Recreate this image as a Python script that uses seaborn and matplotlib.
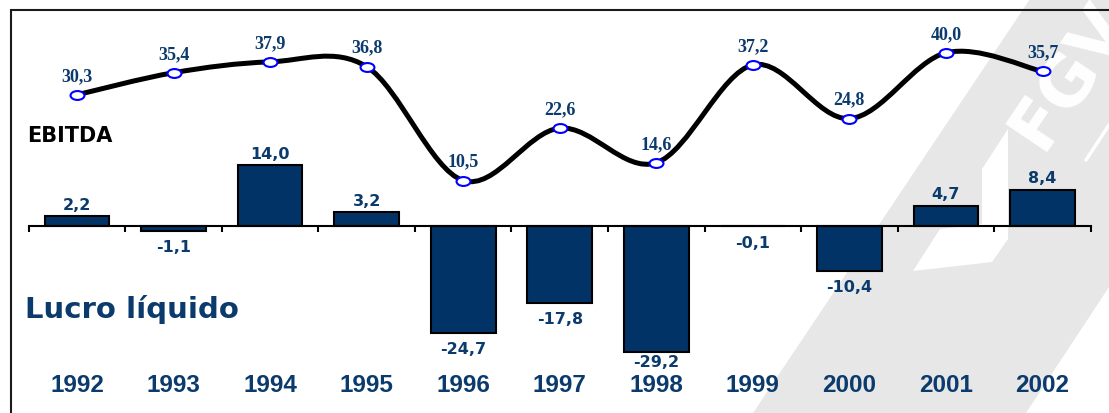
import numpy as np
import matplotlib
matplotlib.use("Agg")
import matplotlib.pyplot as plt
import seaborn as sns
from matplotlib.path import Path
from matplotlib.patches import PathPatch, Polygon
from matplotlib.transforms import Affine2D

# ---------------- data ----------------
years = ["1992", "1993", "1994", "1995", "1996", "1997", "1998", "1999", "2000", "2001", "2002"]
lucro_liquido = [2.2, -1.1, 14.0, 3.2, -24.7, -17.8, -29.2, -0.1, -10.4, 4.7, 8.4]
ebitda = [30.3, 35.4, 37.9, 36.8, 10.5, 22.6, 14.6, 37.2, 24.8, 40.0, 35.7]
series_labels = ["EBITDA", "Lucro líquido"]

# ---------------- style ----------------
W, H = 1109, 414
BAR_COLOR = "#023366"
TEXT_BLUE = "#0b3a6c"
MARKER_BLUE = "#0000ff"
PX_PER_CAT = 96.55
CAT0_PX = 77.0
ZERO_PX = 227.0
PX_PER_UNIT = 4.33

def fmt(v):
    return f"{v:.1f}".replace(".", ",")

sns.set_theme(style="white")
plt.rcParams["font.family"] = ["DejaVu Sans"]

fig = plt.figure(figsize=(W / 100, H / 100), dpi=100)

# background layer in pixel coordinates (watermark, frame, series titles)
bg = fig.add_axes([0, 0, 1, 1], zorder=0)
bg.set_xlim(0, W)
bg.set_ylim(H, 0)
bg.axis("off")

gray = "#e7e7e7"
bg.add_patch(Polygon([(753, 414), (1030, 0), (1109, 0), (1109, 288), (1026, 414)],
                     closed=True, facecolor=gray, edgecolor="none", zorder=0))
bg.add_patch(Polygon([(1008, 130), (982, 170), (982, 225), (940, 230), (913, 272),
                      (992, 263), (1008, 240)],
                     closed=True, facecolor="white", edgecolor="none", zorder=1))
bg.plot([1109, 1086], [126, 161], color="white", lw=2.5, zorder=1)
bg.text(1042, 152, "FGV", rotation=56, rotation_mode="anchor", ha="left", va="baseline",
        fontsize=50, fontweight="bold", color="white", zorder=2)

# frame
bg.plot([11, 11, W + 5], [H + 5, 11, 11], color="#1a1a1a", lw=1.5, zorder=3,
        solid_joinstyle="miter")

bg.text(27, 142, series_labels[0], ha="left", va="baseline", fontsize=15,
        fontweight="bold", color="black", zorder=3)
bg.text(25, 318, series_labels[1], ha="left", va="baseline", fontsize=21,
        fontweight="bold", color=TEXT_BLUE, zorder=3)

# main chart layer
ax = fig.add_axes([0, 0, 1, 1], zorder=1)
ax.patch.set_alpha(0)

sns.barplot(x=years, y=lucro_liquido, color=BAR_COLOR, saturation=1, width=0.67,
            edgecolor="black", linewidth=1.5, errorbar=None, ax=ax, zorder=2)

ax.set_xlim(-CAT0_PX / PX_PER_CAT, (W - CAT0_PX) / PX_PER_CAT)
ax.set_ylim(-(H - ZERO_PX) / PX_PER_UNIT, ZERO_PX / PX_PER_UNIT)

for s in ["top", "right", "left"]:
    ax.spines[s].set_visible(False)
ax.spines["bottom"].set_position(("data", 0))
ax.spines["bottom"].set_bounds(-0.5, len(years) - 0.5)
ax.spines["bottom"].set_linewidth(1.5)
ax.spines["bottom"].set_color("black")
ax.spines["bottom"].set_zorder(3)
ax.set_xticks(np.arange(-0.5, len(years), 1.0), labels=[""] * (len(years) + 1))
ax.tick_params(axis="x", direction="out", length=4.5, width=1.5, color="black", bottom=True)
ax.set_yticks([])
ax.set_xlabel("")
ax.set_ylabel("")

# smoothed EBITDA line (Catmull-Rom style Bezier through the data points)
xs = np.arange(len(ebitda), dtype=float)
P = np.column_stack([xs, ebitda])
verts = [P[0]]
codes = [Path.MOVETO]
n = len(P)
for i in range(n - 1):
    p_prev = P[max(i - 1, 0)]
    p_next2 = P[min(i + 2, n - 1)]
    c1 = P[i] + (P[i + 1] - p_prev) / 6.0
    c2 = P[i + 1] - (p_next2 - P[i]) / 6.0
    verts += [c1, c2, P[i + 1]]
    codes += [Path.CURVE4] * 3
ax.add_patch(PathPatch(Path(verts, codes), fill=False, edgecolor="black", lw=3.6,
                       capstyle="round", joinstyle="round", zorder=4))

ellipse = Path.unit_circle().transformed(Affine2D().scale(1.0, 0.64))
ax.plot(xs, ebitda, ls="none", marker=ellipse, ms=10, mfc="white", mec=MARKER_BLUE,
        mew=1.5, zorder=5)

# labels
for i, v in enumerate(ebitda):
    ax.annotate(fmt(v), (i, v), xytext=(0, 14), textcoords="offset points",
                ha="center", va="center", fontsize=13, fontweight="bold",
                family="Liberation Serif", color=TEXT_BLUE, zorder=6)

neg_offset = {"1998": -1}
for i, v in enumerate(lucro_liquido):
    if v >= 0:
        ax.annotate(fmt(v), (i, v), xytext=(0, 3), textcoords="offset points",
                    ha="center", va="bottom", fontsize=11.5, fontweight="bold",
                    color=TEXT_BLUE, zorder=6)
    else:
        ax.annotate(fmt(v), (i, v), xytext=(0, neg_offset.get(years[i], -6)),
                    textcoords="offset points",
                    ha="center", va="top", fontsize=11.5, fontweight="bold",
                    color=TEXT_BLUE, zorder=6)

year_y = -(392 - ZERO_PX) / PX_PER_UNIT
for i, y in enumerate(years):
    ax.text(i, year_y, y, ha="center", va="baseline", fontsize=17.5, fontweight="bold",
            family="Liberation Sans", color=TEXT_BLUE, zorder=6)

fig.savefig("out.png", dpi=100)
